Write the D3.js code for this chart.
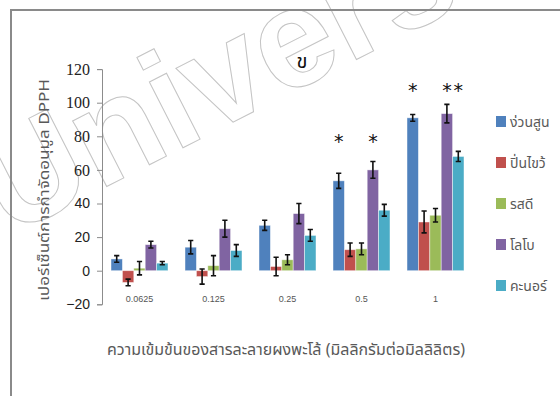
<!DOCTYPE html>
<html><head><meta charset="utf-8">
<script src="https://cdn.jsdelivr.net/npm/d3@7"></script>
<style>body{margin:0;background:#fff} svg{display:block}</style>
</head><body>
<svg id="chart" width="560" height="396"></svg>
<script>
// Concentrations of the powder solution (mg/ml)
const categories = ["0.0625", "0.125", "0.25", "0.5", "1"];
// Varieties
const seriesNames = ["ง่วนสูน", "ปิ่นไขว้", "รสดี", "โลโบ", "คะนอร์"];
const seriesColors = ["#4F81BD", "#C0504D", "#9BBB59", "#8064A2", "#4BACC6"];
// Mean % DPPH scavenging per variety, one value per concentration
const nguansoon = [7, 14, 27, 53.5, 91];
const pinkhwai  = [-7, -3.5, 2.5, 12.5, 29];
const rotdee    = [1.5, 3, 6.5, 13, 33];
const lobo      = [15.5, 25, 34, 60, 93.5];
const khanor    = [4.5, 12, 21, 36, 68];
// Error bar half-lengths, same order
const nguansoonErr = [2, 4, 3, 4.5, 2];
const pinkhwaiErr  = [2, 4.5, 5.5, 4, 6.5];
const rotdeeErr    = [4, 6, 3, 3.5, 4];
const loboErr      = [2, 5, 6, 5, 5.5];
const khanorErr    = [1, 3.5, 3.5, 3.5, 3];
const yTicks = [-20, 0, 20, 40, 60, 80, 100, 120];
// Significance markers: concentration, variety index, height in axis units
const sigCats   = ["0.5", "0.5", "1", "1", "1"];
const sigSeries = [0, 3, 0, 3, 4];
const sigLevel  = [79.5, 79.5, 109.5, 109.5, 109.5];

const seriesValues = [nguansoon, pinkhwai, rotdee, lobo, khanor];
const seriesErrors = [nguansoonErr, pinkhwaiErr, rotdeeErr, loboErr, khanorErr];

const svg = d3.select("#chart");
const thai = "'Noto Sans Thai', 'Noto Sans', 'DejaVu Sans', sans-serif";

// faint outlined watermark behind the chart
svg.append("text")
  .attr("transform", "translate(8,237) rotate(-27)")
  .attr("font-family", "'Liberation Sans', sans-serif")
  .attr("font-weight", "bold")
  .attr("font-size", 140)
  .attr("fill", "none")
  .attr("stroke", "#c4c4c4")
  .attr("stroke-width", 1)
  .text("University");

// outer frame (top and left edges)
svg.append("path")
  .attr("d", "M11,396 V10 H560")
  .attr("fill", "none")
  .attr("stroke", "#8a8a8a")
  .attr("stroke-width", 2);

const x0 = d3.scaleBand().domain(categories).range([102.5, 472.5]).paddingInner(0.23).paddingOuter(0.115);
const x1 = d3.scaleBand().domain(d3.range(seriesNames.length)).range([0, x0.bandwidth()]);
const y = d3.scaleLinear().domain([-20, 120]).range([304.3, 69.1]);

// y axis
const yAxis = svg.append("g")
  .attr("transform", "translate(102,0)")
  .call(d3.axisLeft(y).tickValues(yTicks).tickSize(5).tickPadding(7).tickFormat(d3.format("d")));
yAxis.select(".domain").attr("stroke", "#8c8c8c");
yAxis.selectAll(".tick line").attr("stroke", "#8c8c8c");
yAxis.selectAll(".tick text")
  .attr("fill", "#222")
  .attr("font-family", d => d >= 60 ? "'Liberation Serif', serif" : "'Liberation Sans', sans-serif")
  .attr("font-size", d => d >= 60 ? 16 : 14);

// category labels under the plot
svg.append("g").selectAll("text")
  .data(categories).join("text")
  .attr("x", d => x0(d) + x0.bandwidth() / 2)
  .attr("y", 302)
  .attr("text-anchor", "middle")
  .attr("font-family", "'Liberation Sans', sans-serif")
  .attr("font-size", 9)
  .attr("fill", "#555")
  .text(d => d);

// bars + error bars
const groups = svg.append("g").selectAll("g")
  .data(categories).join("g")
  .attr("transform", d => `translate(${x0(d)},0)`);

const cells = groups.selectAll("g")
  .data((c, ci) => seriesNames.map((s, si) => ({ si, v: seriesValues[si][ci], e: seriesErrors[si][ci] })))
  .join("g");

cells.append("rect")
  .attr("x", d => x1(d.si))
  .attr("width", x1.bandwidth())
  .attr("y", d => y(Math.max(0, d.v)))
  .attr("height", d => Math.abs(y(d.v) - y(0)))
  .attr("fill", d => seriesColors[d.si])
  .attr("stroke", "rgba(255,255,255,0.55)")
  .attr("stroke-width", 0.8);

const cap = 2.6;
cells.append("path")
  .attr("d", d => {
    const cx = x1(d.si) + x1.bandwidth() / 2;
    const t = y(d.v + d.e), b = y(d.v - d.e);
    return `M${cx},${t}V${b}M${cx - cap},${t}H${cx + cap}M${cx - cap},${b}H${cx + cap}`;
  })
  .attr("fill", "none")
  .attr("stroke", "#111")
  .attr("stroke-width", 1.6);

// significance asterisks
svg.append("g").selectAll("text")
  .data(sigCats.map((c, i) => ({ c, s: sigSeries[i], lv: sigLevel[i] })))
  .join("text")
  .attr("x", d => x0(d.c) + x1(d.s) + x1.bandwidth() / 2)
  .attr("y", d => y(d.lv))
  .attr("dy", "0.55em")
  .attr("text-anchor", "middle")
  .attr("font-family", "'DejaVu Sans', sans-serif")
  .attr("font-size", 19)
  .attr("fill", "#111")
  .text("*");

// panel letter
svg.append("text")
  .attr("x", 302).attr("y", 68)
  .attr("text-anchor", "middle")
  .attr("font-family", thai)
  .attr("font-size", 20)
  .attr("fill", "#111")
  .text("ข");

// legend
const legend = svg.append("g").selectAll("g")
  .data(seriesNames).join("g")
  .attr("transform", (d, i) => `translate(496,${121.5 + i * 41})`);
legend.append("rect")
  .attr("x", 0).attr("y", -5.5)
  .attr("width", 10).attr("height", 11)
  .attr("fill", (d, i) => seriesColors[i]);
legend.append("text")
  .attr("x", 14).attr("y", 5)
  .attr("font-family", thai)
  .attr("font-size", 14)
  .attr("fill", "#595959")
  .text(d => d);

// axis titles
svg.append("text")
  .attr("transform", "translate(49,190) rotate(-90)")
  .attr("text-anchor", "middle")
  .attr("font-family", thai)
  .attr("font-size", 14)
  .attr("fill", "#595959")
  .attr("textLength", 222)
  .attr("lengthAdjust", "spacingAndGlyphs")
  .text("เปอร์เซ็นต์การกำจัดอนุมูล DPPH");

svg.append("text")
  .attr("x", 286).attr("y", 355)
  .attr("text-anchor", "middle")
  .attr("font-family", thai)
  .attr("font-size", 16)
  .attr("fill", "#595959")
  .attr("textLength", 358)
  .attr("lengthAdjust", "spacingAndGlyphs")
  .text("ความเข้มข้นของสารละลายผงพะโล้ (มิลลิกรัมต่อมิลลิลิตร)");
</script>
</body></html>
